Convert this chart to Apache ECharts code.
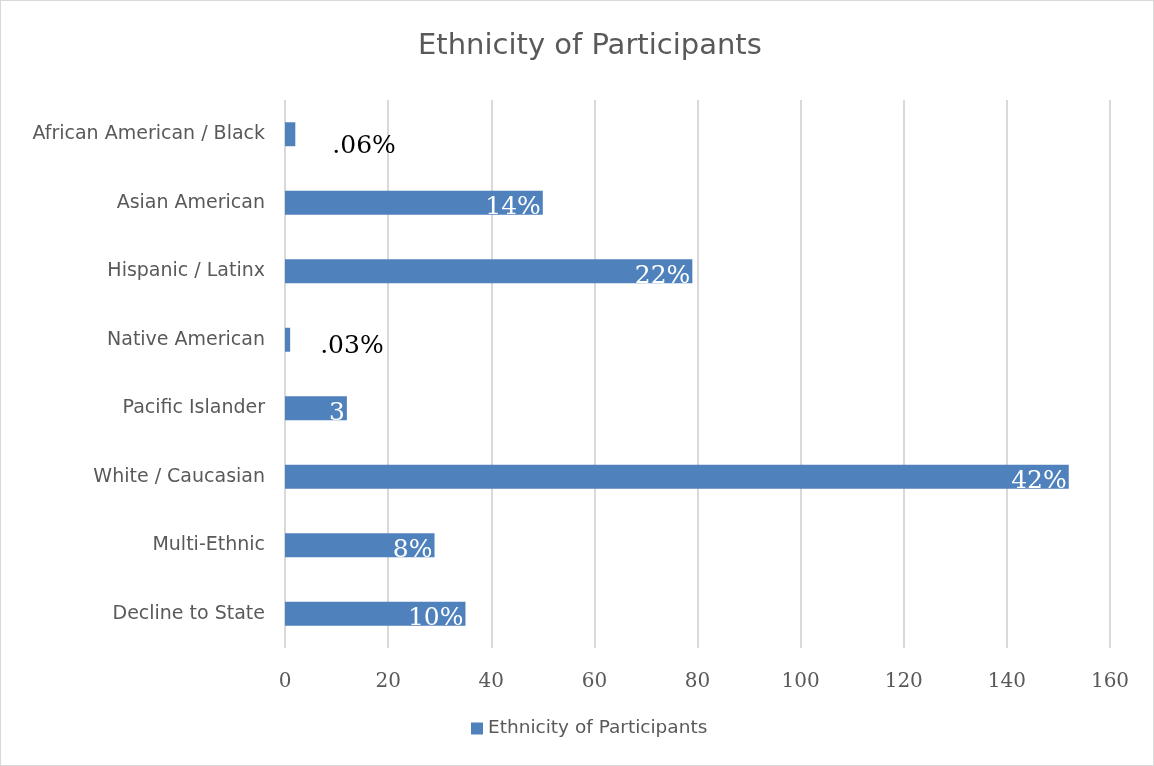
<!DOCTYPE html>
<html><head><meta charset="utf-8">
<script src="https://cdn.jsdelivr.net/npm/echarts@6/dist/echarts.min.js"></script>
<style>html,body{margin:0;padding:0;background:#fff}#c{width:1152px;height:764px;border:1px solid #d9d9d9}</style>
</head><body><div id="c"></div>
<script>
const categories = ["African American / Black","Asian American","Hispanic / Latinx","Native American","Pacific Islander","White / Caucasian","Multi-Ethnic","Decline to State"];
const values = [2,50,79,1,12,152,29,35];
const labels = [".06%","14%","22%",".03%","3","42%","8%","10%"];
const xTicks = [0,20,40,60,80,100,120,140,160];

const outside = {0:{distance:37,offset:[0,12]},3:{distance:30,offset:[0,7]}};
const data = values.map((v,i)=>{
  const d = {value:v};
  if (outside[i]) {
    d.label = {show:true, position:'right', distance:outside[i].distance, offset:outside[i].offset, color:'#000', formatter:labels[i]};
  } else {
    d.label = {show:true, position:'insideRight', distance:2, offset:[0,5], color:'#fff', formatter:labels[i]};
  }
  return d;
});
const chart = echarts.init(document.getElementById('c'));
chart.setOption({
  animation:false,
  title:{text:'Ethnicity of Participants', left:412, top:26, textStyle:{fontFamily:'DejaVu Sans', fontWeight:'normal', fontSize:29, color:'#595959'}},
  legend:{bottom:22, left:465, itemWidth:12, itemHeight:12, icon:'rect', textStyle:{fontFamily:'DejaVu Sans', fontSize:18.5, color:'#595959'}},
  grid:{left:284, right:43, top:99, bottom:117},
  xAxis:{type:'value', min:0, max:160, interval:20, axisLine:{show:false}, axisTick:{show:false},
    splitLine:{lineStyle:{color:'#d9d9d9', width:2}},
    axisLabel:{fontFamily:'DejaVu Serif', fontSize:20, color:'#595959', margin:24, formatter:v=>String(xTicks[xTicks.indexOf(v)])}},
  yAxis:{type:'category', data:categories, inverse:true, axisLine:{show:false}, axisTick:{show:false},
    axisLabel:{fontFamily:'DejaVu Sans', fontSize:19, color:'#595959', margin:20}},
  series:[{name:'Ethnicity of Participants', type:'bar', data:data, barWidth:'35%',
    itemStyle:{color:'#4f81bd'},
    label:{fontFamily:'DejaVu Serif', fontSize:25}}]
});
</script></body></html>
